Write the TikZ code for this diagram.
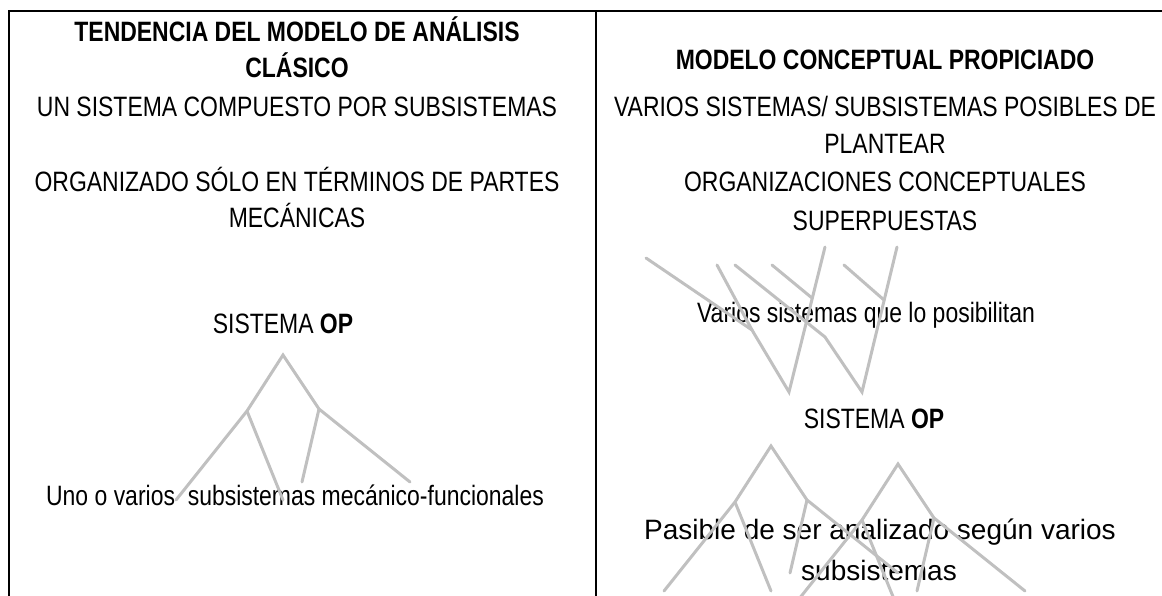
\documentclass[tikz,border=0pt]{standalone}
\usepackage{fontspec}
\setmainfont{Liberation Sans}[FakeStretch=0.82]
\newfontfamily\anchafont{Liberation Sans}
\usepackage{tikz}
\usetikzlibrary{positioning}
\definecolor{ramagris}{RGB}{192,192,192}

% Arbol: #1 nombre, #2/#3 vertice
\newcommand{\arbol}[3]{%
  \begin{scope}[shift={(#2,#3)}]
    \coordinate (#1-r) at (0,0);
    \coordinate (#1-i) at (-36,56);
    \coordinate (#1-d) at (36,54);
    \coordinate (#1-h1) at (-107,145);
    \coordinate (#1-h2) at (0,145);
    \coordinate (#1-h3) at (19,127);
    \coordinate (#1-h4) at (127,127);
    \draw[rama] (#1-h1) -- (#1-i) -- (#1-r) -- (#1-d) -- (#1-h4);
    \draw[rama] (#1-i) -- (#1-h2);
    \draw[rama] (#1-d) -- (#1-h3);
  \end{scope}}

\begin{document}
\begin{tikzpicture}[x=1pt, y=-1pt,
  texto/.style={anchor=base, inner sep=0pt, font=\fontsize{28}{34}\selectfont},
  rama/.style={draw=ramagris, line width=3pt, line cap=round},
  marco/.style={draw=black, line width=1.5pt}]
\useasboundingbox (0,0) rectangle (1162,596);
\clip (0,0) rectangle (1162,596);

% Marco de la tabla
\coordinate (esi) at (9,11);
\coordinate (esd) at (1170,11);
\coordinate (eii) at (9,600);
\coordinate (dsup) at (596,11);
\coordinate (dinf) at (596,600);
\draw[marco] (eii) -- (esi) -- (esd);
\draw[marco] (dsup) -- (dinf);

% Columna izquierda
\node[texto] (tend) at (297,42) {\bfseries TENDENCIA DEL MODELO DE ANÁLISIS};
\node[texto] (clas) at (297,78) {\bfseries CLÁSICO};
\node[texto] (unsis) at (297,117) {UN SISTEMA COMPUESTO POR SUBSISTEMAS};
\node[texto] (org1) at (297,192) {ORGANIZADO SÓLO EN TÉRMINOS DE PARTES};
\node[texto] (org2) at (297,228) {MECÁNICAS};
\node[texto] (sisL) at (283,333) {SISTEMA \textbf{OP}};
\node[texto] (uno) at (295,505) {Uno o varios\ \ subsistemas mecánico-funcionales};

% Columna derecha
\node[texto] (mod) at (885,70) {\bfseries MODELO CONCEPTUAL PROPICIADO};
\node[texto] (var1) at (885,117) {VARIOS SISTEMAS/ SUBSISTEMAS POSIBLES DE};
\node[texto] (var2) at (885,154) {PLANTEAR};
\node[texto] (orgc1) at (885,192) {ORGANIZACIONES CONCEPTUALES};
\node[texto] (orgc2) at (885,230) {SUPERPUESTAS};
\node[texto] (vsis) at (866,322) {Varios sistemas que lo posibilitan};
\node[texto] (sisR) at (874,428) {SISTEMA \textbf{OP}};
\node[texto] (pas1) at (880,539) {\anchafont Pasible de ser analizado según varios};
\node[texto] (pas2) at (879,580) {\anchafont subsistemas};

% Arbol izquierdo
\arbol{ai}{283}{355}

% Sistemas invertidos (raiz abajo)
\coordinate (v1-r) at (789,392);
\coordinate (v1-a) at (752,330);
\coordinate (v1-t1) at (646,258);
\coordinate (v1-t2) at (717,265);
\coordinate (v1-b) at (812,298);
\coordinate (v1-t3) at (825,247);
\coordinate (v1-t4) at (772,265);
\coordinate (v2-r) at (862,392);
\coordinate (v2-a) at (825,337);
\coordinate (v2-t1) at (735,265);
\coordinate (v2-b) at (884,300);
\coordinate (v2-t3) at (897,247);
\coordinate (v2-t4) at (844,265);
\draw[rama] (v1-t1) -- (v1-a) -- (v1-r) -- (v1-t3);
\draw[rama] (v1-t2) -- (v1-a);
\draw[rama] (v1-t4) -- (v1-b);
\draw[rama] (v2-t1) -- (v2-a) -- (v2-r) -- (v2-t3);
\draw[rama] (v2-t4) -- (v2-b);

% Arboles superpuestos
\arbol{a1}{771}{446}
\arbol{a2}{898}{464}
\end{tikzpicture}
\end{document}
